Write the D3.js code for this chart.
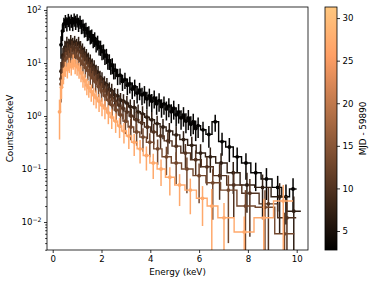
<!DOCTYPE html>
<html>
<head>
<meta charset="utf-8">
<script src="https://cdn.jsdelivr.net/npm/d3@7/dist/d3.min.js"></script>
<style>
  body { margin: 0; background: #fff; }
  svg text { font-family: "DejaVu Sans", sans-serif; fill: #000; }
</style>
</head>
<body>
<div id="chart"></div>
<script>
// ── data: one spectrum per observation (MJD - 59890) ──────────
const MJD = [3, 7, 10, 13, 27];

// MJD 3 (brightest)
const E_03 = [0.34,0.40,0.46,0.52,0.58,0.64,0.70,0.76,0.82,0.88,0.94,1.00,1.06,1.12,1.18,
  1.24,1.30,1.36,1.42,1.48,1.54,1.60,1.66,1.72,1.78,1.84,1.90,1.96,2.02,2.08,2.14,2.20,2.26,2.32,2.38,2.44,2.50,
  2.56,2.66,2.76,2.86,2.96,3.06,3.16,3.26,3.36,3.46,3.56,3.66,3.76,3.86,3.96,
  4.06,4.16,4.26,4.36,4.46,4.56,4.66,4.76,4.86,4.96,
  5.06,5.16,5.26,5.36,5.46,5.56,5.66,5.76,5.86,5.96,
  6.16,6.40,6.66,6.94,7.24,7.56,7.92,8.32,8.76,9.22,9.56,9.85];
const RATE_03 = [22,40,55,63,56,66,58,64,57,67,60,65,55,61,50,
  51,43,44,37,38,32,33,27,29,23,25,20,20,16.5,17,13.5,14,11,11,9,9.2,7.3,
  7.4,5.8,5.9,4.5,4.9,3.8,4.1,3.2,3.6,2.7,3.1,2.5,2.7,2.1,2.4,
  1.9,2.2,1.7,1.95,1.5,1.7,1.35,1.55,1.2,1.4,
  1.05,1.2,0.92,1.05,0.8,0.92,0.7,0.78,0.58,0.66,
  0.55,0.45,0.78,0.33,0.26,0.17,0.13,0.085,0.065,0.045,0.03,0.042];
const ERR_03 = [.45,.35,.3,.28,.3,.28,.3,.28,.3,.28,.3,.28,.3,.28,.3,
  .3,.3,.3,.3,.3,.3,.3,.3,.31,.31,.31,.31,.32,.32,.32,.32,.32,.32,.33,.33,.33,.33,
  .33,.34,.34,.34,.34,.35,.35,.35,.35,.36,.36,.36,.36,.37,.37,
  .37,.37,.38,.38,.38,.38,.39,.39,.39,.39,
  .4,.4,.4,.4,.41,.41,.41,.42,.42,.42,
  .42,.44,.35,.46,.48,.5,.52,.55,.6,.65,.7,.6];

// MJD 7
const E_07 = [0.34,0.42,0.50,0.58,0.66,0.74,0.82,0.90,0.98,1.06,1.14,1.22,1.30,1.38,1.46,1.54,1.62,1.70,1.78,1.86,1.94,
  2.02,2.12,2.22,2.32,2.42, 2.54,2.66,2.78,2.90, 3.04,3.18,3.34,3.50,3.68,3.86,
  4.06,4.28,4.52,4.78,5.06,5.36,5.70, 6.06,6.46,6.90,7.40,7.96,8.60,9.30,9.88];
const RATE_07 = [7,14,20,24,22,26,23,25,22,24,20,18,15.5,14,12,11,9.2,8.5,7.0,6.6,5.4,
  5.0,4.2,3.9,3.2,3.0, 2.5,2.4,2.0,1.9, 1.75,1.5,1.45,1.2,1.1,0.95,
  0.85,0.72,0.62,0.52,0.44,0.36,0.28, 0.2,0.17,0.13,0.085,0.05,0.045,0.03,0.016];
const ERR_07 = [.5,.38,.32,.3,.3,.3,.3,.3,.3,.3,.3,.3,.31,.31,.31,.32,.32,.32,.33,.33,.33,
  .34,.34,.34,.35,.35, .35,.36,.36,.36, .37,.37,.38,.38,.39,.39,
  .4,.4,.41,.42,.43,.44,.45, .47,.5,.52,.6,.7,.75,.8,.9];

// MJD 10
const E_10 = [0.34,0.43,0.52,0.61,0.70,0.79,0.88,0.97,1.06,1.15,1.24,1.33,1.42,1.51,1.60,1.69,1.78,
  1.88,1.98,2.08, 2.20,2.32,2.44, 2.58,2.72,2.88, 3.04,3.22,3.42,3.64,3.88,
  4.14,4.42,4.72,5.06,5.44,5.86, 6.32,6.84,7.42,8.08,8.84,9.60];
const RATE_10 = [5,10,15,18,17,20,18,19,17,16,13.5,12,10,9,7.8,6.6,5.8,
  4.8,4.1,3.6, 3.0,2.5,2.2, 1.9,1.6,1.4, 1.2,1.0,0.85,0.75,0.62,
  0.5,0.42,0.34,0.27,0.2,0.15, 0.11,0.075,0.05,0.035,0.022,0.012];
const ERR_10 = [.5,.38,.32,.31,.31,.31,.31,.31,.31,.31,.32,.32,.32,.33,.33,.34,.34,
  .34,.35,.35, .35,.36,.36, .37,.37,.38, .38,.39,.4,.4,.41,
  .42,.43,.45,.46,.48,.5, .55,.65,.75,.85,1.0,1.2];

// MJD 13
const E_13 = [0.34,0.44,0.54,0.64,0.74,0.84,0.94,1.04,1.14,1.24,1.34,1.44,1.54,1.64,
  1.76,1.88,2.00, 2.14,2.28,2.44,2.60,2.78,2.98, 3.20,3.44,3.70,3.98,
  4.30,4.66,5.06,5.50, 6.00,6.56,7.20,7.90,8.70,9.50];
const RATE_13 = [4,8,12,13,14.5,13,14,12.5,11,9.5,8.2,7.2,6.0,5.2,
  4.4,3.6,3.0, 2.4,2.0,1.6,1.3,1.05,0.8, 0.62,0.5,0.4,0.32,
  0.24,0.17,0.13,0.1, 0.075,0.055,0.04,0.02,0.019,0.006];
const ERR_13 = [.55,.4,.34,.33,.33,.33,.33,.33,.34,.34,.35,.35,.36,.36,
  .37,.37,.38, .39,.4,.4,.41,.42,.43, .44,.45,.47,.48,
  .5,.55,.6,.65, .7,.8,.9,1.0,1.1,1.5];

// MJD 27 (faintest)
const E_27 = [0.28,0.36,0.44,0.52,0.60,0.68,0.76,0.84,0.92,1.00,1.08,1.16,1.24,1.32,1.40,1.48,
  1.58,1.68,1.78,1.90,2.02,2.14, 2.28,2.42,2.58,2.74,2.92, 3.12,3.34,3.58,3.84,
  4.12,4.44,4.80,5.20,5.64, 6.14,6.52,7.02,7.85,8.65,9.45];
const RATE_27 = [1.2,3.5,6,8,7.5,9.5,8.5,11,9,8.5,7.5,6.5,5.2,4.6,3.8,3.4,
  2.9,2.5,2.2,1.9,1.6,1.4, 1.15,0.95,0.8,0.65,0.52, 0.42,0.32,0.24,0.18,
  0.13,0.1,0.07,0.05,0.04, 0.028,0.02,0.012,0.0065,0.012,0.025];
const ERR_27 = [.7,.4,.34,.32,.32,.32,.32,.32,.32,.32,.33,.33,.34,.34,.35,.35,
  .36,.36,.37,.37,.38,.38, .39,.4,.4,.41,.42, .43,.45,.47,.48,
  .5,.52,.55,.6,.65, .7,1.1,.9,.95,1.3,1.0];

const X_TICKS = [0, 2, 4, 6, 8, 10];
const Y_TICKS = [1e-2, 1e-1, 1, 10, 100];
const Y_EXP   = ["\u22122", "\u22121", "0", "1", "2"];
const CB_TICKS = [5, 10, 15, 20, 25, 30];

// ── layout ────────────────────────────────────────────────────
const W = 374, H = 285;
const PLOT = { left: 47, right: 308, top: 7, bottom: 250 };
const CB = { left: 325, width: 12 };
const CMIN = 2.77, CMAX = 31.3;

// matplotlib "copper"
function copper(v) {
  const t = Math.max(0, Math.min(1, (v - CMIN) / (CMAX - CMIN)));
  return d3.rgb(Math.min(1, 1.25 * t) * 255, 0.7812 * t * 255, 0.4975 * t * 255).formatHex();
}

const spectra = [
  { mjd: MJD[0], e: E_03, v: RATE_03, r: ERR_03 },
  { mjd: MJD[1], e: E_07, v: RATE_07, r: ERR_07 },
  { mjd: MJD[2], e: E_10, v: RATE_10, r: ERR_10 },
  { mjd: MJD[3], e: E_13, v: RATE_13, r: ERR_13 },
  { mjd: MJD[4], e: E_27, v: RATE_27, r: ERR_27 }
];

const svg = d3.select("#chart").append("svg")
  .attr("width", W).attr("height", H);

const x = d3.scaleLinear().domain([-0.234, 10.463]).range([PLOT.left, PLOT.right]);
const y = d3.scaleLog().domain([0.002965, 114]).range([PLOT.bottom, PLOT.top]);

const defs = svg.append("defs");
defs.append("clipPath").attr("id", "plot-clip")
  .append("rect")
  .attr("x", PLOT.left).attr("y", PLOT.top)
  .attr("width", PLOT.right - PLOT.left).attr("height", PLOT.bottom - PLOT.top);

// ── spectra ───────────────────────────────────────────────────
const g = svg.append("g").attr("clip-path", "url(#plot-clip)");

function stepPath(e, v) {
  const n = e.length, edges = [e[0] - (e[1] - e[0]) / 2];
  for (let i = 0; i < n - 1; i++) edges.push((e[i] + e[i + 1]) / 2);
  edges.push(e[n - 1] + (e[n - 1] - e[n - 2]) / 2);
  let d = "";
  for (let i = 0; i < n; i++) {
    const yy = y(v[i]);
    d += (i === 0 ? "M" : "L") + x(edges[i]) + "," + yy + "L" + x(edges[i + 1]) + "," + yy;
  }
  return d;
}

spectra.forEach(s => {
  const col = copper(s.mjd);
  const pts = s.e.map((e, i) => ({ e, v: s.v[i], r: s.r[i] }));
  const sg = g.append("g");

  sg.append("path")
    .attr("d", stepPath(s.e, s.v))
    .attr("fill", "none")
    .attr("stroke", col)
    .attr("stroke-width", 1.4);

  sg.selectAll(".err").data(pts).enter().append("line")
    .attr("x1", d => x(d.e)).attr("x2", d => x(d.e))
    .attr("y1", d => y(d.v * (1 + d.r)))
    .attr("y2", d => { const lo = d.v * (1 - d.r); return lo > 0 ? y(lo) : PLOT.bottom + 10; })
    .attr("stroke", col)
    .attr("stroke-width", 1.5);

  sg.selectAll(".pt").data(pts).enter().append("circle")
    .attr("cx", d => x(d.e)).attr("cy", d => y(d.v))
    .attr("r", 1.9)
    .attr("fill", col);
});

// ── axes ──────────────────────────────────────────────────────
const xAxis = svg.append("g")
  .attr("transform", `translate(0,${PLOT.bottom})`)
  .call(d3.axisBottom(x).tickValues(X_TICKS).tickSize(3).tickPadding(2.5).tickFormat(d3.format("d")));

const minor = [];
for (let k = -3; k <= 2; k++)
  for (let m = 2; m <= 9; m++) {
    const t = m * Math.pow(10, k);
    if (t >= y.domain()[0] && t <= y.domain()[1]) minor.push(t);
  }
svg.append("g")
  .attr("transform", `translate(${PLOT.left},0)`)
  .call(d3.axisLeft(y).tickValues(minor).tickSize(1.8).tickFormat(""))
  .call(a => a.select(".domain").remove());

const yAxis = svg.append("g")
  .attr("transform", `translate(${PLOT.left},0)`)
  .call(d3.axisLeft(y).tickValues(Y_TICKS).tickSize(3).tickPadding(2.5));

yAxis.selectAll(".tick text").each(function (d, i) {
  const t = d3.select(this).text(null);
  t.append("tspan").text("10");
  t.append("tspan").attr("dy", "-0.5em").style("font-size", "6.2px").text(Y_EXP[i]);
});

[xAxis, yAxis].forEach(a => {
  a.select(".domain").remove();
  a.selectAll("text").style("font-size", "8.6px").attr("fill", "#000");
});
svg.selectAll(".tick line").attr("stroke", "#000").attr("stroke-width", 0.8);

svg.append("rect")
  .attr("x", PLOT.left).attr("y", PLOT.top)
  .attr("width", PLOT.right - PLOT.left).attr("height", PLOT.bottom - PLOT.top)
  .attr("fill", "none").attr("stroke", "#000").attr("stroke-width", 0.8);

svg.append("text")
  .attr("x", (PLOT.left + PLOT.right) / 2).attr("y", 275)
  .attr("text-anchor", "middle").style("font-size", "8.8px")
  .text("Energy (keV)");

svg.append("text")
  .attr("transform", `translate(13,${(PLOT.top + PLOT.bottom) / 2}) rotate(-90)`)
  .attr("text-anchor", "middle").style("font-size", "8.8px")
  .text("Counts/sec/keV");

// ── colorbar ──────────────────────────────────────────────────
const grad = defs.append("linearGradient").attr("id", "cmap")
  .attr("x1", 0).attr("y1", 1).attr("x2", 0).attr("y2", 0);
d3.range(0, 1.0001, 0.05).forEach(t => {
  grad.append("stop").attr("offset", t).attr("stop-color", copper(CMIN + t * (CMAX - CMIN)));
});

svg.append("rect")
  .attr("x", CB.left).attr("y", PLOT.top)
  .attr("width", CB.width).attr("height", PLOT.bottom - PLOT.top)
  .attr("fill", "url(#cmap)")
  .attr("stroke", "#000").attr("stroke-width", 0.8);

const cb = d3.scaleLinear().domain([CMIN, CMAX]).range([PLOT.bottom, PLOT.top]);
const cbAxis = svg.append("g")
  .attr("transform", `translate(${CB.left + CB.width},0)`)
  .call(d3.axisRight(cb).tickValues(CB_TICKS).tickSize(3).tickPadding(2.5));
cbAxis.select(".domain").remove();
cbAxis.selectAll("text").style("font-size", "8.6px").attr("fill", "#000");
cbAxis.selectAll("line").attr("stroke", "#000").attr("stroke-width", 0.8);

svg.append("text")
  .attr("transform", `translate(366,${(PLOT.top + PLOT.bottom) / 2}) rotate(-90)`)
  .attr("text-anchor", "middle").style("font-size", "8.8px")
  .text("MJD - 59890");
</script>
</body>
</html>
